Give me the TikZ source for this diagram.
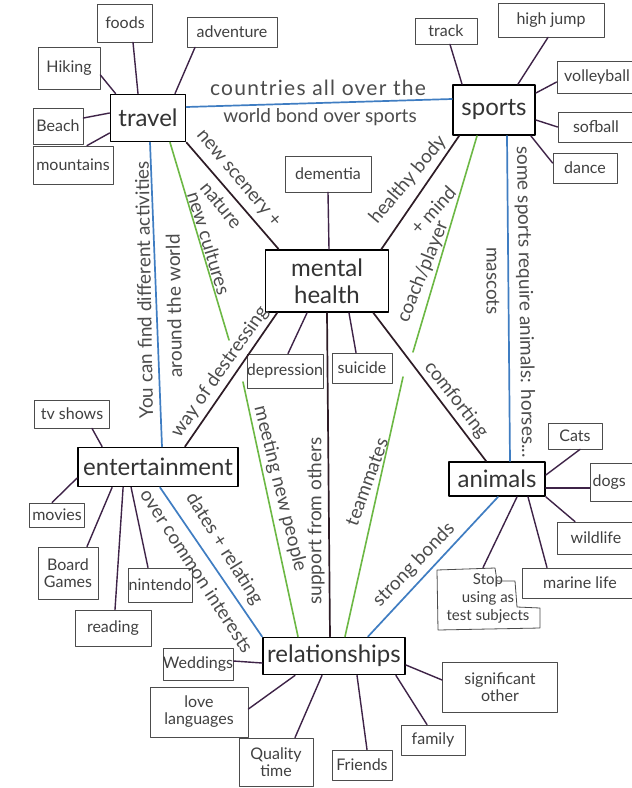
\documentclass[tikz,border=0pt]{standalone}
\usepackage{fontspec}
\setmainfont{Lato}
\usetikzlibrary{calc}

\definecolor{inkdark}{HTML}{2E1C26}
\definecolor{inkpurple}{HTML}{3E2347}
\definecolor{inkblue}{HTML}{3F7DC2}
\definecolor{inkgreen}{HTML}{6CB844}

\tikzset{
  dims/.style 2 args={minimum width=#1pt, minimum height=#2pt},
  mainbox/.style={draw=black, line width=1.8pt, inner sep=0pt, text=black!80,
    font=\fontsize{24}{27}\selectfont, align=center},
  leafbox/.style={draw=black!70, line width=0.8pt, inner sep=0pt, text=black!75,
    font=\fontsize{16}{17}\selectfont, align=center},
  leaflink/.style={draw=inkpurple, line width=1.4pt},
  darklink/.style={draw=inkdark, line width=1.7pt},
  bluelink/.style={draw=inkblue, line width=1.7pt},
  greenlink/.style={draw=inkgreen, line width=1.6pt},
  edgetext/.style={text=black!70, font=\fontsize{19}{20}\selectfont, inner sep=0pt},
}

\begin{document}
\begin{tikzpicture}[x=1pt, y=-1pt, line cap=round, line join=round]
\useasboundingbox (0,0) rectangle (632,788);
\clip (0,0) rectangle (632,788);
\fill[white] (0,0) rectangle (632,788);

% ---- main topics
\node[mainbox, dims={75}{47}]  (travel) at (148,118) {travel};
\node[mainbox, dims={82}{50}]  (sports) at (494,110) {sports};
\node[mainbox, dims={123}{62}] (mental) at (327,281) {mental\\health};
\node[mainbox, dims={160}{39}] (ent)    at (158,467) {entertainment};
\node[mainbox, dims={96}{34}]  (animals) at (497,479) {animals};
\node[mainbox, dims={142}{37}] (rel)    at (334,656) {relationships};

% ---- travel branches
\node[leafbox, dims={55}{38}] (foods) at (125,23) {foods};
\node[leafbox, dims={90}{30}] (adventure) at (232,32) {adventure};
\node[leafbox, dims={62}{42}] (hiking) at (69,68) {Hiking};
\node[leafbox, dims={50}{36}] (beach) at (58,126) {Beach};
\node[leafbox, dims={80}{38}] (mountains) at (73,165) {mountains};
\draw[leaflink] ([xshift=8]foods.south) -- ([xshift=-10]travel.north);
\draw[leaflink] ([xshift=-37]adventure.south) -- ([xshift=27]travel.north);
\draw[leaflink] ([yshift=-7]hiking.east) -- ([xshift=6]travel.north west);
\draw[leaflink] ([yshift=8]beach.east) -- ([yshift=5]travel.west);
\draw[leaflink] ([xshift=14]mountains.north) -- ([yshift=-15]travel.west);

% ---- sports branches
\node[leafbox, dims={62}{26}] (track) at (446,31) {track};
\node[leafbox, dims={106}{34}] (highjump) at (551,20) {high jump};
\node[leafbox, dims={80}{32}] (volley) at (597,77) {volleyball};
\node[leafbox, dims={76}{30}] (softball) at (596,127) {sofball};
\node[leafbox, dims={64}{30}] (dance) at (585,168) {dance};
\draw[leaflink] ([xshift=4]track.south) -- ([xshift=-32]sports.north);
\draw[leaflink] ([xshift=-3]highjump.south) -- ([xshift=24]sports.north);
\draw[leaflink] ([yshift=-5]volley.west) -- ([yshift=17]sports.east);
\draw[leaflink] (softball.west) -- ([yshift=-10]sports.east);
\draw[leaflink] ([yshift=5]dance.west) -- ([xshift=-5]sports.south east);

% ---- mental health branches
\node[leafbox, dims={86}{36}] (dementia) at (328,174) {dementia};
\node[leafbox, dims={66}{34}] (depression) at (285,371) {depression};
\node[leafbox, dims={60}{30}] (suicide) at (362,368) {suicide};
\draw[leaflink] (dementia.south) -- ([xshift=2]mental.north);
\draw[leaflink] ([xshift=3]depression.north) -- ([xshift=-20]mental.south);
\draw[leaflink] ([xshift=-6]suicide.north) -- ([xshift=22]mental.south);

% ---- entertainment branches
\node[leafbox, dims={75}{28}] (tv) at (72,414) {tv shows};
\node[leafbox, dims={55}{24}] (movies) at (57,515) {movies};
\node[leafbox, dims={60}{52}] (board) at (68,573) {Board\\Games};
\node[leafbox, dims={76}{36}] (reading) at (113,628) {reading};
\node[leafbox, dims={64}{34}] (nintendo) at (160,585) {nintendo};
\draw[leaflink] ([xshift=20]tv.south) -- ([xshift=25]ent.north west);
\draw[leaflink] ([xshift=-5]movies.north) -- ([yshift=-11]ent.west);
\draw[leaflink] ([xshift=19]board.north) -- ([xshift=35]ent.south west);
\draw[leaflink] ([xshift=2]reading.north) -- ([xshift=46]ent.south west);
\draw[leaflink] ([xshift=-12]nintendo.north) -- ([xshift=54]ent.south west);

% ---- animals branches
\node[leafbox, dims={54}{26}] (cats) at (575,436) {Cats};
\node[leafbox, dims={46}{38}, text width=46pt, align=left] (dogs) at (613,482) {\,dogs};
\node[leafbox, dims={78}{32}] (wildlife) at (596,538) {wildlife};
\node[leafbox, dims={116}{30}] (marine) at (580,583) {marine life};
\node[leafbox, draw=none, dims={104}{60}, font=\fontsize{15}{18}\selectfont] (stop) at (488,598) {Stop\\using as\\test subjects};
\draw[black!70, line width=0.8pt] (437,570) -- (495,568) -- (497,581) -- (515,581)
  -- (517,607) -- (540,608) -- (540,628) -- (438,630) -- cycle;
\draw[leaflink] ([xshift=5]cats.south) -- ([yshift=4]animals.east);
\draw[leaflink] ([yshift=-6]dogs.west) -- ([yshift=-9]animals.east);
\draw[leaflink] ([xshift=-21]wildlife.north) -- (animals.south east);
\draw[leaflink] ([xshift=-33]marine.north) -- ([xshift=31]animals.south);
\draw[leaflink] ([xshift=-5]stop.north) -- ([xshift=20]animals.south);

% ---- relationships branches
\node[leafbox, dims={67}{32}] (weddings) at (198,664) {Weddings};
\node[leafbox, dims={98}{50}] (love) at (199,712) {love\\languages};
\node[leafbox, dims={74}{48}] (quality) at (276,762) {Quality\\time};
\node[leafbox, dims={60}{30}] (friends) at (362,765) {Friends};
\node[leafbox, dims={64}{30}] (family) at (433,740) {family};
\node[leafbox, dims={115}{50}] (signif) at (500,687) {significant\\other};
\draw[leaflink] ([yshift=3]weddings.east) -- ([yshift=-7]rel.west);
\draw[leaflink] ([yshift=3]love.east) -- ([xshift=-39]rel.south);
\draw[leaflink] ([xshift=19]quality.north) -- ([xshift=-12]rel.south);
\draw[leaflink] ([xshift=5]friends.north) -- ([xshift=23]rel.south);
\draw[leaflink] ([xshift=-6]family.north) -- ([xshift=-10]rel.south east);
\draw[leaflink] ([yshift=7]signif.west) -- ([yshift=-9]rel.east);

% ---- links between topics
\coordinate (g1) at (229,340);
\coordinate (g2) at (243,382);
\coordinate (g3) at (413,352);
\coordinate (g4) at (403,377);

\draw[bluelink] ([yshift=11]travel.east) -- ([yshift=11]sports.west);
\draw[darklink] (travel.south east) -- ([xshift=14]mental.north west);
\draw[greenlink] ([xshift=22]travel.south) -- (g1);
\draw[greenlink] (g2) -- ([xshift=-36]rel.north);
\draw[bluelink] ([xshift=2]travel.south) -- ([xshift=4]ent.north);
\draw[darklink] ([xshift=7]sports.south west) -- ([xshift=-8]mental.north east);
\draw[greenlink] ([xshift=-17]sports.south) -- (g3);
\draw[greenlink] (g4) -- ([xshift=11]rel.north);
\draw[bluelink] ([xshift=13]sports.south) -- ([xshift=13]animals.north);
\draw[darklink] ([xshift=12.5]mental.south west) -- ([xshift=27]ent.north);
\draw[darklink] (mental.south) -- ([xshift=-4]rel.north);
\draw[darklink] ([xshift=-16]mental.south east) -- ([xshift=38]animals.north west);
\draw[bluelink] ([xshift=2]ent.south) -- (rel.north west);
\draw[bluelink] ([xshift=1]animals.south) -- ([xshift=34]rel.north);

% ---- link labels
\node[edgetext, font=\fontsize{21}{22}\selectfont\addfontfeatures{LetterSpace=6}] (t1) at (318,88) {countries all over the};
\node[edgetext] (t2) at (320,117) {world bond over sports};
\node[edgetext, rotate=-50] (t3) at (238,179) {new scenery +};
\node[edgetext, rotate=-51] (t4) at (221,205) {nature};
\node[edgetext, rotate=-73] (t5) at (209,243) {new cultures};
\node[edgetext, rotate=91] (t6) at (144,290) {You can find different activities};
\node[edgetext, rotate=91] (t7) at (174,306) {around the world};
\node[edgetext, rotate=55] (t8) at (220,372) {way of destressing};
\node[edgetext, rotate=50] (t9) at (408,180) {healthy body};
\node[edgetext, rotate=48] (t10) at (433,210) {+ mind};
\node[edgetext, rotate=68] (t11) at (423,272) {coach/player};
\node[edgetext, rotate=-90] (t12) at (493,281) {mascots};
\node[edgetext, rotate=-89] (t13) at (525,302) {some sports require animals: horses...};
\node[edgetext, rotate=-52] (t14) at (456,400) {comforting};
\node[edgetext, rotate=-76] (t15) at (280,489) {meeting new people};
\node[edgetext, rotate=90] (t16) at (316,521) {support from others};
\node[edgetext, rotate=70] (t17) at (367,482) {teammates};
\node[edgetext, rotate=46] (t18) at (414,565) {strong bonds};
\node[edgetext, rotate=-58] (t19) at (224,549) {dates + relating};
\node[edgetext, rotate=-57] (t20) at (197,571) {over common interests};
\end{tikzpicture}
\end{document}
